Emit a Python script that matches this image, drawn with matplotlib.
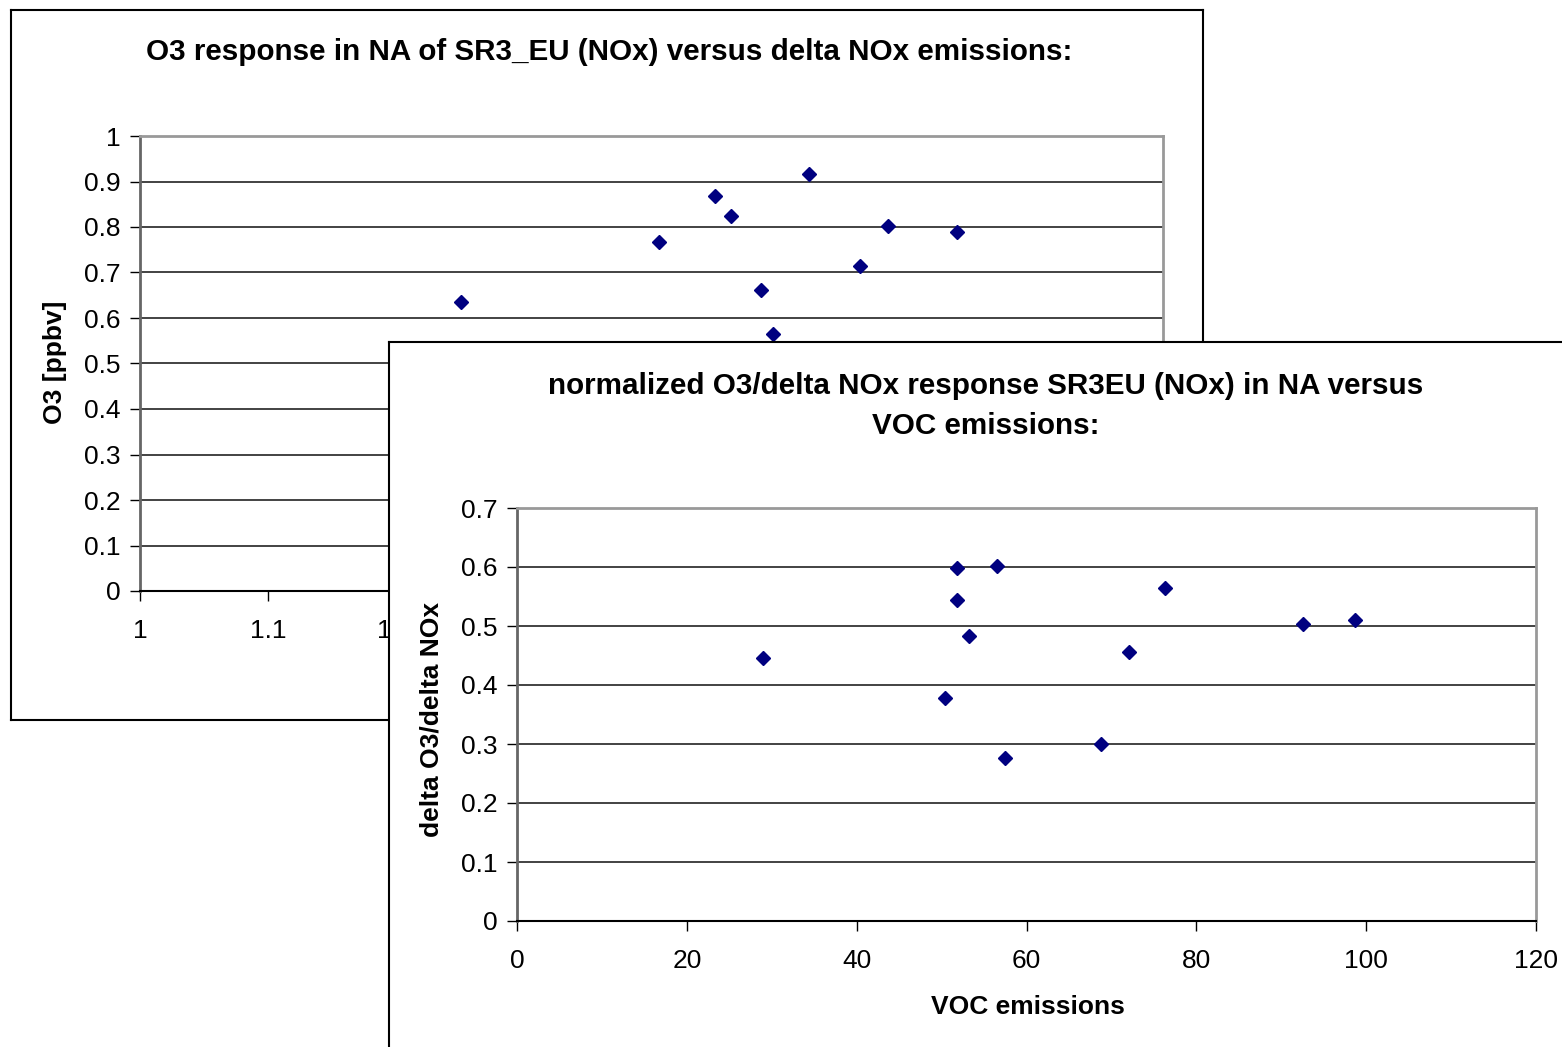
import matplotlib.pyplot as plt
from matplotlib.ticker import MultipleLocator, FormatStrFormatter

# top chart: O3 response vs delta NOx emissions (only the visible points)
nox_ratio = [1.251, 1.406, 1.450, 1.462, 1.486, 1.495, 1.523, 1.563, 1.585, 1.639]
o3_resp = [0.635, 0.767, 0.868, 0.824, 0.662, 0.565, 0.916, 0.714, 0.802, 0.789]

# bottom chart: normalized response vs VOC emissions
voc_emis = [29.0, 50.4, 51.8, 51.8, 53.2, 56.5, 57.5, 68.8, 72.1, 76.3, 92.6, 98.7]
norm_resp = [0.446, 0.378, 0.598, 0.544, 0.483, 0.602, 0.276, 0.300, 0.456, 0.564, 0.503, 0.510]

top_title = "O3 response in NA of SR3_EU (NOx) versus delta NOx emissions:"
bot_title = "normalized O3/delta NOx response SR3EU (NOx) in NA versus\nVOC emissions:"

W, H = 1562, 1047
plt.rcParams['font.family'] = ['Liberation Sans', 'DejaVu Sans']

def box(l, t, r, b):
    return [l / W, 1 - b / H, (r - l) / W, (b - t) / H]

def frame(rect):
    f = fig.add_axes(rect)
    f.set_xticks([])
    f.set_yticks([])
    f.set_facecolor('white')
    for s in f.spines.values():
        s.set_color('black')
        s.set_linewidth(1.5)
    return f

def style(ax):
    ax.grid(axis='y', color='#222222', linewidth=1.2)
    ax.set_axisbelow(True)
    for s in ('top', 'right'):
        ax.spines[s].set_color('#999999')
        ax.spines[s].set_linewidth(2)
    ax.spines['left'].set_color('#666666')
    ax.spines['left'].set_linewidth(2)
    ax.spines['bottom'].set_color('black')
    ax.spines['bottom'].set_linewidth(1.5)
    ax.tick_params(direction='out', length=7, width=1, labelsize=19, pad=7)
    ax.tick_params(axis='x', pad=13)

fig = plt.figure(figsize=(W / 100, H / 100), dpi=100)

# first chart
f1 = frame(box(11, 10, 1203, 720))
f1.text(609 / W, 1 - 52 / H, top_title, transform=fig.transFigure,
        ha='center', va='center', fontsize=21.3, fontweight='bold')
ax1 = fig.add_axes(box(140, 136, 1163, 591))
ax1.plot(nox_ratio, o3_resp, 'D', color='#000080', markersize=7, clip_on=False)
ax1.set_xlim(1, 1.8)
ax1.set_ylim(0, 1)
ax1.xaxis.set_major_locator(MultipleLocator(0.1))
ax1.yaxis.set_major_locator(MultipleLocator(0.1))
ax1.xaxis.set_major_formatter(FormatStrFormatter('%g'))
ax1.yaxis.set_major_formatter(FormatStrFormatter('%g'))
style(ax1)
ax1.set_ylabel('O3 [ppbv]', fontsize=19, fontweight='bold')
ax1.yaxis.set_label_coords(-0.071, 0.503)

# second chart, lying over the first one
f2 = frame(box(389, 342, 1620, 1100))
f2.text(986 / W, 1 - 406 / H, bot_title, transform=fig.transFigure,
        ha='center', va='center', fontsize=21.3, fontweight='bold', linespacing=1.57)
ax2 = fig.add_axes(box(517, 508, 1536, 921))
ax2.plot(voc_emis, norm_resp, 'D', color='#000080', markersize=7, clip_on=False)
ax2.set_xlim(0, 120)
ax2.set_ylim(0, 0.7)
ax2.xaxis.set_major_locator(MultipleLocator(20))
ax2.yaxis.set_major_locator(MultipleLocator(0.1))
ax2.yaxis.set_major_formatter(FormatStrFormatter('%g'))
style(ax2)
ax2.set_ylabel('delta O3/delta NOx', fontsize=19, fontweight='bold')
ax2.yaxis.set_label_coords(-0.0726, 0.489)
ax2.set_xlabel('VOC emissions', fontsize=19, fontweight='bold')
ax2.xaxis.set_label_coords(0.5015, -0.179)

fig.savefig('out.png', dpi=100)
